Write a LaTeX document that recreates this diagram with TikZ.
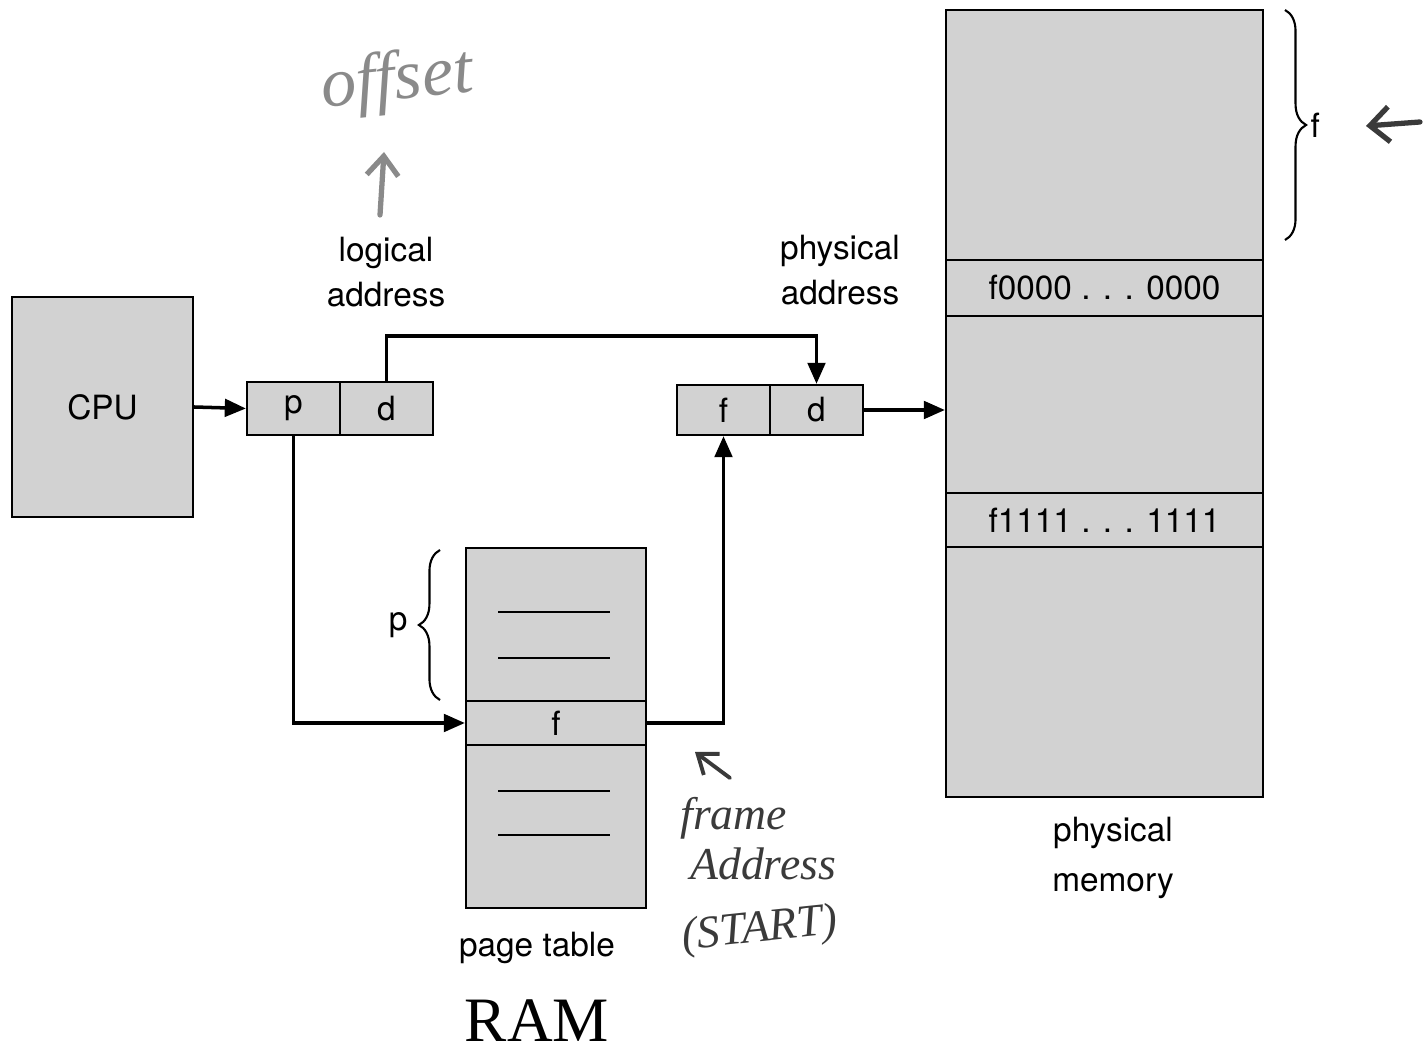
\documentclass[tikz,border=0pt]{standalone}
\usepackage{fontspec}
\setmainfont{TeX Gyre Heros}
\newfontfamily\ramfont{Liberation Serif}
\newfontfamily\handfont{Liberation Serif}
\usetikzlibrary{arrows.meta,decorations.pathreplacing}
\definecolor{cellgray}{HTML}{D2D2D2}
\definecolor{pencil}{HTML}{8A8A8A}
\definecolor{ink}{HTML}{3A3A3A}
\newcommand{\lblsize}{\fontsize{19}{24}\selectfont}

\tikzset{
  cell/.style={draw, line width=1.3pt, fill=cellgray, inner sep=0pt, font=\lblsize},
  flow/.style={-{Triangle[length=12pt,width=10pt]}, line width=2pt},
  lbl/.style={align=center, font=\lblsize, inner sep=0pt},
  hand/.style={font=\handfont\itshape\fontsize{26}{28}\selectfont, inner sep=0pt, ink},
  brc/.style={decorate, decoration={brace, amplitude=12pt}, line width=1.2pt}
}

\begin{document}
\begin{tikzpicture}[x=0.02cm, y=-0.02cm]
    \useasboundingbox (0,0) rectangle (1428,1053);

    % CPU
    \node[cell, minimum width=3.62cm, minimum height=4.4cm] (cpu) at (102.5,407) {CPU};

    % Logical address
    \node[cell, minimum width=1.86cm, minimum height=1.06cm] (p) at (293.5,408.5) {p};
    \node[cell, minimum width=1.86cm, minimum height=1.06cm] (d) at (386.5,408.5) {d};
    \node[lbl] (logical) at (386,272) {logical\\[2pt]address};

    % Physical address
    \node[cell, minimum width=1.86cm, minimum height=1.0cm] (f) at (723.5,410) {f};
    \node[cell, minimum width=1.86cm, minimum height=1.0cm] (d2) at (816.5,410) {d};
    \node[lbl] (physical) at (840,270) {physical\\[2pt]address};

    % Page table
    \node[cell, minimum width=3.6cm, minimum height=3.06cm] (pttop) at (556,624.5) {};
    \node[cell, minimum width=3.6cm, minimum height=0.88cm] (ptf) at (556,723) {f};
    \node[cell, minimum width=3.6cm, minimum height=3.26cm] (ptbot) at (556,826.5) {};
    \draw[line width=1.2pt] (498,612) -- (610,612) (498,658) -- (610,658);
    \draw[line width=1.2pt] (498,791) -- (610,791) (498,835) -- (610,835);
    \node[lbl] (ptlabel) at (537,948) {page table};
    \draw[brc] (440,700) -- (440,550) node[midway, left=18pt, font=\lblsize, inner sep=0pt] (pbrace) {p};

    % Physical memory
    \node[cell, minimum width=6.34cm, minimum height=5.0cm] (mem1) at (1104.5,135) {};
    \node[cell, minimum width=6.34cm, minimum height=1.12cm] (mem2) at (1104.5,288) {f0000 . . . 0000};
    \node[cell, minimum width=6.34cm, minimum height=3.54cm] (mem3) at (1104.5,404.5) {};
    \node[cell, minimum width=6.34cm, minimum height=1.08cm] (mem4) at (1104.5,520) {f1111 . . . 1111};
    \node[cell, minimum width=6.34cm, minimum height=5.0cm] (mem5) at (1104.5,672) {};
    \node[lbl] (memlabel) at (1113,858) {physical\\[4pt]memory};
    \draw[brc] (1285,10) -- (1285,240) node[midway, right=14pt, font=\lblsize, inner sep=0pt] (fbrace) {f};

    % Connectors
    \draw[flow] (cpu.east) -- (p.west);
    \draw[flow] (d.north) -- ++(0,-45) -| (d2.north);
    \draw[flow] (p.south) |- (ptf.west);
    \draw[flow] (ptf.east) -| (f.south);
    \draw[flow] (d2.east) -- (d2.east -| mem3.west);

    % Handwritten notes
    \node[hand, pencil, rotate=6, font=\handfont\itshape\fontsize{40}{40}\selectfont] (offset) at (397,82) {offset};
    \coordinate (offtail) at (380,215);
    \coordinate (offhead) at (384,152);
    \draw[pencil, line width=3pt, line cap=round, -{Straight Barb[length=11pt,width=18pt]}] (offtail) -- (offhead);

    \node[hand, anchor=base west] (frame) at (680,830) {frame};
    \node[hand, anchor=base west] (addr) at (690,880) {Address};
    \node[hand, anchor=base west, rotate=6] (start) at (683,950) {(START)};
    \coordinate (frtail) at (730,778);
    \coordinate (frhead) at (695,752);
    \draw[ink, line width=2.2pt, line cap=round, -{Straight Barb[length=10pt,width=15pt]}] (frtail) -- (frhead);

    \coordinate (mtail) at (1420,122);
    \coordinate (mhead) at (1366,126);
    \draw[ink, line width=3pt, line cap=round, -{Straight Barb[length=11pt,width=20pt]}] (mtail) -- (mhead);

    % RAM
    \node[font=\ramfont\fontsize{36}{40}\selectfont, inner sep=0pt, anchor=base] (ram) at (537,1042) {RAM};
\end{tikzpicture}
\end{document}
